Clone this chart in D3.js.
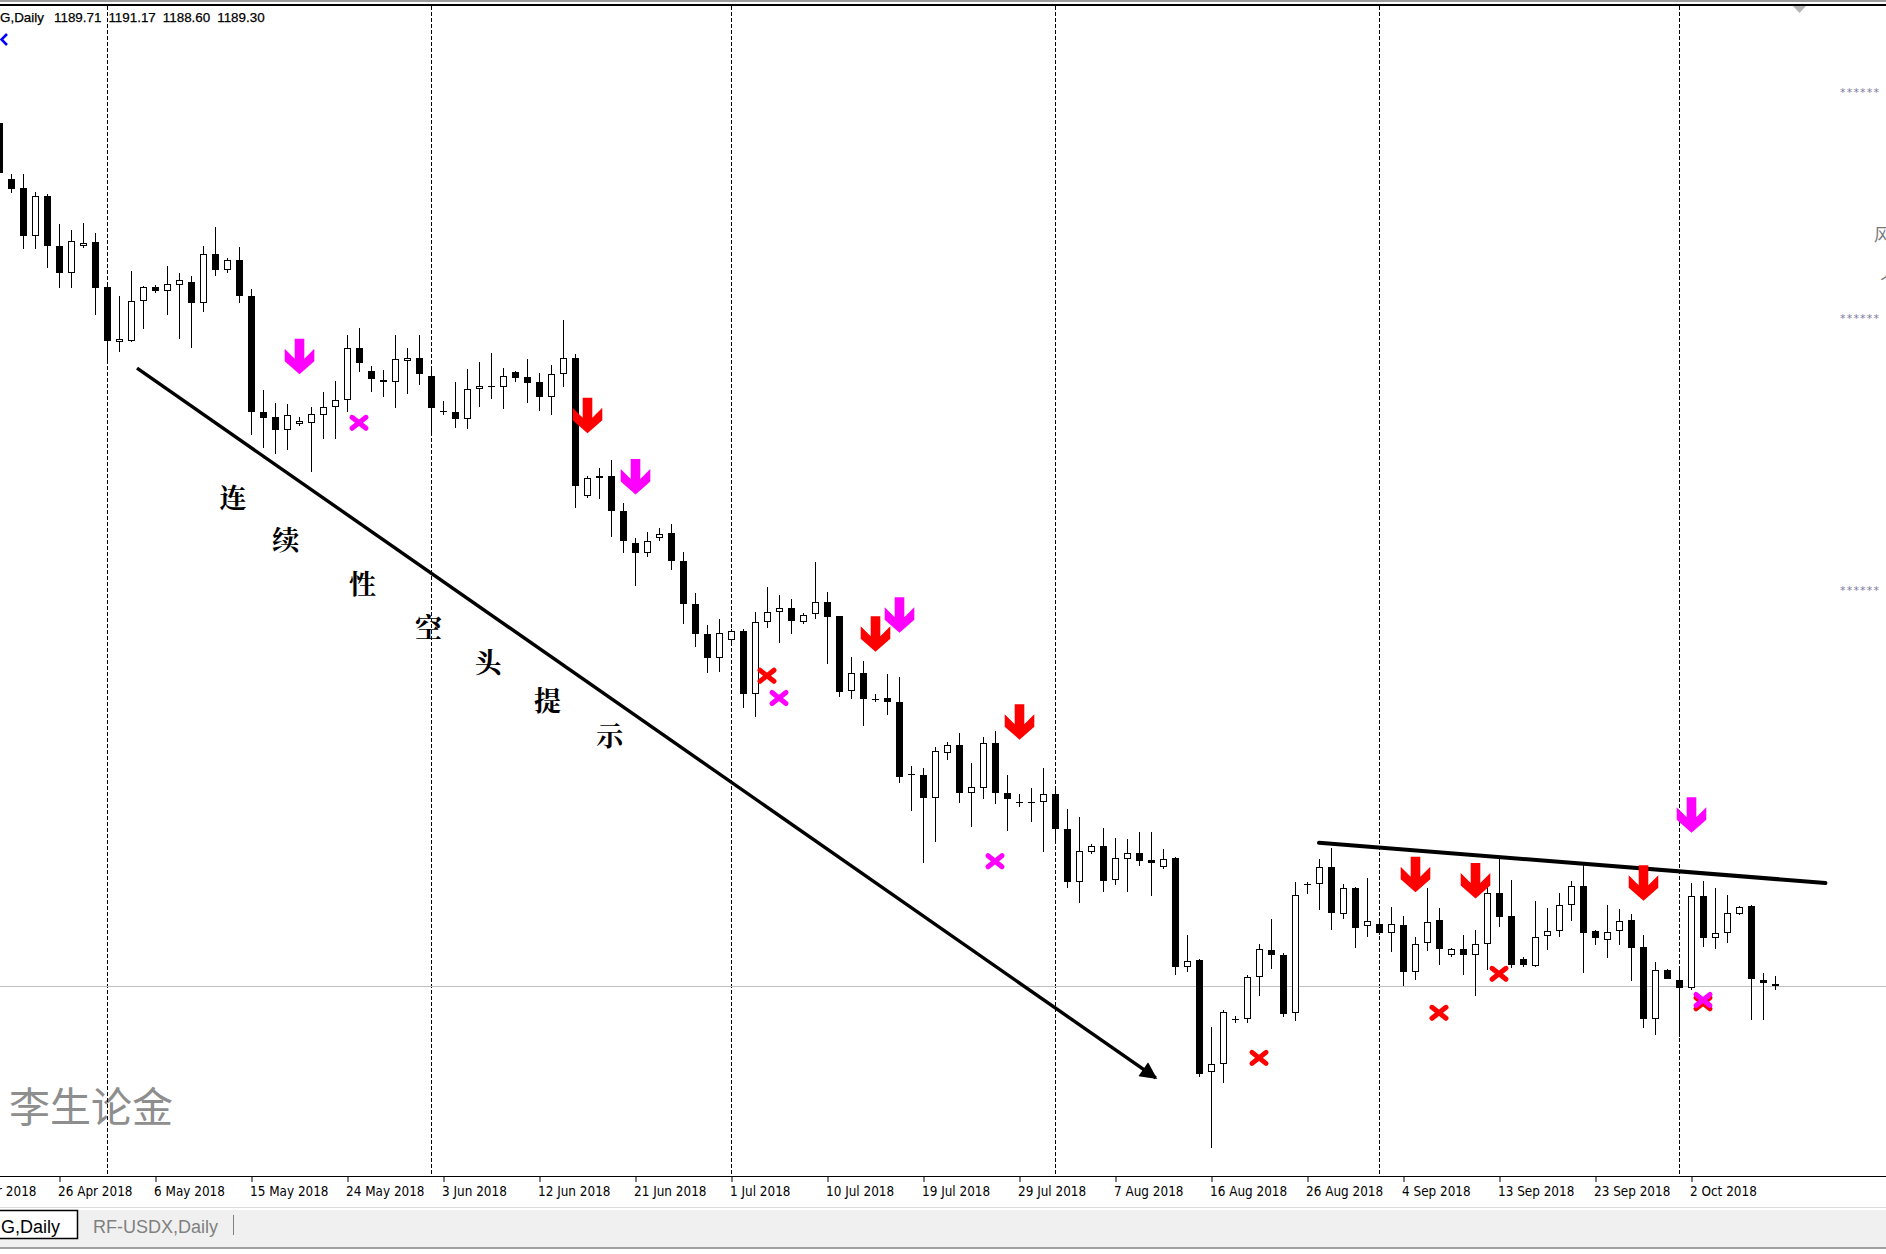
<!DOCTYPE html>
<html><head><meta charset="utf-8">
<script src="https://cdn.jsdelivr.net/npm/d3@7/dist/d3.min.js"></script>
<style>html,body{margin:0;padding:0;background:#fff;overflow:hidden}</style>
</head><body>
<svg id="c" width="1886" height="1254" xmlns="http://www.w3.org/2000/svg"></svg>
<script>
// ---------------- DATA ----------------
const firstIndex = -5; // bar index of the first bar (26 Apr 2018 = 0)
const open = [1344.2,1334.2,1332.6,1323.9,1331.1,1322.2,1317.3,1322.2,1322.9,1314.8,1304.9,1305.1,1312.3,1314.8,1314.1,1315.2,1315.7,1311.9,1320.7,1317.8,1319.6,1313.2,1292.3,1291.4,1289.1,1290.2,1290.4,1291.8,1293.2,1294.5,1303.8,1299.7,1298.1,1297.7,1301.5,1302.0,1298.8,1292.5,1292.3,1291.1,1296.5,1297.0,1296.8,1299.5,1298.6,1297.7,1295.0,1299.2,1302.0,1277.3,1280.9,1280.9,1274.6,1268.8,1267.0,1269.7,1270.6,1265.6,1257.9,1252.5,1248.2,1251.4,1253.0,1241.7,1254.7,1256.4,1257.2,1254.7,1256.1,1258.2,1255.7,1242.3,1245.5,1240.8,1241.0,1240.3,1227.4,1227.2,1223.1,1231.1,1232.6,1223.9,1224.8,1232.9,1223.9,1222.3,1222.3,1222.3,1223.8,1217.5,1208.0,1213.4,1214.4,1208.3,1212.1,1213.2,1211.9,1210.7,1212.3,1192.7,1194.0,1173.9,1175.3,1183.4,1183.4,1190.9,1195.8,1194.9,1184.5,1207.6,1207.6,1210.7,1202.2,1206.9,1200.1,1200.4,1198.8,1200.3,1191.8,1197.0,1201.1,1194.9,1195.9,1194.9,1196.8,1206.0,1201.9,1194.1,1192.9,1198.3,1199.2,1203.8,1207.3,1199.2,1197.6,1199.2,1201.1,1196.3,1183.4,1192.2,1190.4,1188.9,1205.5,1197.9,1198.8,1202.2,1203.7,1190.4,1189.71];
const high = [1345.3,1335.1,1335.1,1331.8,1331.4,1326.1,1325.0,1326.3,1324.5,1315.0,1313.2,1317.7,1315.0,1315.2,1318.6,1317.3,1316.8,1322.2,1325.6,1320.0,1322.0,1314.4,1296.3,1294.0,1293.8,1291.5,1293.2,1295.9,1297.9,1306.2,1307.4,1300.6,1299.9,1306.2,1303.8,1306.2,1300.6,1294.3,1297.7,1300.1,1301.3,1302.9,1300.2,1299.7,1301.9,1299.4,1300.8,1308.9,1302.8,1280.9,1282.3,1283.7,1276.0,1269.7,1270.8,1271.5,1272.2,1267.2,1259.9,1254.1,1255.2,1253.4,1253.4,1256.4,1260.9,1259.5,1258.8,1256.3,1265.4,1260.0,1255.8,1248.4,1247.6,1241.7,1245.3,1244.8,1228.8,1228.4,1232.2,1233.1,1234.7,1229.3,1234.0,1235.1,1227.2,1223.8,1224.8,1228.4,1224.8,1221.1,1219.6,1214.8,1217.7,1215.9,1215.7,1216.9,1216.9,1213.9,1212.5,1198.5,1194.1,1181.9,1185.0,1183.9,1191.3,1196.8,1201.3,1195.2,1208.0,1208.0,1212.1,1214.1,1207.6,1207.1,1208.7,1200.8,1203.5,1201.9,1198.1,1206.9,1203.3,1196.1,1198.5,1199.4,1207.1,1212.1,1208.3,1194.5,1204.6,1203.3,1206.0,1208.2,1211.4,1199.3,1203.8,1203.1,1202.2,1198.5,1193.6,1192.3,1192.5,1207.8,1208.2,1206.9,1205.6,1203.7,1203.8,1191.6,1191.17];
const low = [1334.7,1331.7,1321.6,1321.6,1318.2,1314.6,1314.6,1321.8,1309.8,1301.3,1303.1,1304.9,1307.2,1313.7,1309.8,1305.5,1303.8,1310.3,1316.8,1317.3,1311.9,1288.2,1285.9,1284.8,1285.5,1289.8,1281.6,1287.5,1287.5,1292.3,1299.5,1295.9,1295.0,1293.1,1295.6,1297.2,1288.8,1291.8,1289.5,1289.3,1293.2,1294.7,1292.9,1297.7,1294.0,1292.5,1291.8,1296.8,1275.1,1276.9,1276.7,1269.9,1267.0,1261.1,1266.3,1269.2,1264.0,1254.3,1250.2,1245.5,1245.7,1251.1,1239.2,1237.6,1253.6,1250.9,1252.5,1254.3,1255.2,1247.1,1241.2,1240.8,1236.0,1240.3,1238.0,1225.7,1220.7,1211.4,1215.2,1229.9,1222.2,1217.8,1222.9,1222.0,1217.1,1221.4,1218.7,1213.4,1215.5,1206.9,1204.2,1213.0,1206.2,1207.4,1206.2,1210.8,1205.5,1210.3,1191.3,1191.8,1173.0,1160.2,1171.9,1182.7,1182.7,1187.5,1192.4,1183.7,1183.0,1205.8,1202.9,1199.4,1201.3,1196.1,1198.1,1198.5,1195.4,1189.3,1190.4,1195.6,1193.1,1194.5,1191.3,1187.5,1192.2,1199.9,1192.5,1192.7,1192.7,1195.8,1198.1,1201.0,1191.6,1196.7,1194.3,1196.7,1190.2,1181.8,1180.5,1190.5,1180.1,1188.6,1196.3,1195.9,1197.0,1202.0,1183.2,1183.2,1188.60];
const close = [1335.3,1332.4,1323.9,1331.1,1322.2,1317.3,1323.0,1322.7,1314.6,1305.1,1305.5,1312.3,1314.8,1314.1,1315.3,1316.0,1311.9,1320.7,1317.8,1319.6,1313.2,1292.3,1291.3,1289.1,1291.8,1290.7,1292.0,1293.2,1294.5,1303.8,1301.1,1298.3,1297.7,1301.9,1302.0,1299.2,1293.1,1292.3,1291.1,1296.5,1297.0,1296.9,1298.8,1298.5,1297.6,1295.0,1299.2,1302.0,1279.1,1280.5,1280.5,1274.6,1269.2,1267.0,1269.2,1270.4,1265.6,1257.9,1252.5,1248.2,1252.7,1253.0,1241.7,1254.7,1256.4,1257.2,1254.8,1255.9,1258.2,1255.5,1242.1,1245.5,1240.8,1240.7,1240.3,1226.8,1227.3,1223.1,1231.5,1232.6,1223.9,1225.0,1232.9,1223.9,1222.9,1222.2,1222.2,1223.8,1217.5,1208.0,1213.5,1214.4,1208.2,1212.3,1213.2,1211.7,1211.4,1212.1,1192.7,1193.8,1173.5,1175.3,1184.6,1183.3,1190.9,1195.9,1194.9,1184.3,1205.6,1207.7,1210.7,1202.4,1206.9,1199.7,1201.0,1198.8,1200.4,1191.8,1196.8,1200.8,1195.9,1195.9,1194.9,1196.8,1206.0,1201.7,1193.1,1193.1,1198.1,1199.2,1203.8,1207.3,1198.8,1197.9,1199.0,1201.0,1196.1,1183.4,1192.2,1190.6,1188.9,1205.5,1197.9,1198.8,1202.4,1203.5,1190.6,1189.8,1189.30];

const tickIndex  = [-8,0,8,16,24,32,40,48,56,64,72,80,88,96,104,112,120,128,136];
const tickLabels = ["17 Apr 2018","26 Apr 2018","6 May 2018","15 May 2018","24 May 2018","3 Jun 2018","12 Jun 2018","21 Jun 2018","1 Jul 2018","10 Jul 2018","19 Jul 2018","29 Jul 2018","7 Aug 2018","16 Aug 2018","26 Aug 2018","4 Sep 2018","13 Sep 2018","23 Sep 2018","2 Oct 2018"];
const monthStartIndex = [4,31,56,83,110,135];

// signal arrows (bar index, price at arrow top, colour)
const arrowIndex = [20,44,48,68,70,80,113,118,132,136];
const arrowPrice = [1305.5,1294.9,1283.9,1255.7,1259.1,1239.9,1212.5,1211.4,1211.0,1223.2];
const arrowColor = ["#ff00ff","#ff0000","#ff00ff","#ff0000","#ff00ff","#ff0000","#ff0000","#ff0000","#ff0000","#ff00ff"];
// cross markers (bar index, price at centre, colour)
const crossIndex = [25,59,60,78,100,115,120,137,137];
const crossPrice = [1290.4,1245.0,1241.0,1211.7,1176.4,1184.5,1191.5,1186.2,1186.8];
const crossColor = ["#ff00ff","#ff0000","#ff00ff","#ff00ff","#ff0000","#ff0000","#ff0000","#ff0000","#ff00ff"];

// trend lines [index, price]
const downTrend = [[6.5,1300.2],[91.4,1172.8]];
const resistance = [[105,1215.0],[147.2,1207.8]];

// diagonal caption
const captionChars = ["连","续","性","空","头","提","示"];
const captionIndex = [14.5,18.9,25.3,30.8,35.75,40.7,45.9];
const captionPrice = [1277.1,1269.7,1261.8,1253.8,1247.5,1240.8,1234.5];

const symbolLabel = "G,Daily";
const tabLabels = ["G,Daily","RF-USDX,Daily"];
const watermark = "李生论金";

// ---------------- CHART ----------------
const W = 1886, H = 1254;
const svg = d3.select("#c");
const x = d3.scaleLinear().domain([0,136]).range([59,1691]);
const y = d3.scaleLinear().domain([1155.2,1365.4]).range([1176,5]);

svg.append("rect").attr("width",W).attr("height",H).attr("fill","#fff");

const defs = svg.append("defs");
defs.append("clipPath").attr("id","clip").append("rect").attr("x",0).attr("y",6).attr("width",W).attr("height",1170);
defs.append("marker").attr("id","ah").attr("viewBox","0 0 10 10").attr("refX",9).attr("refY",5)
  .attr("markerWidth",6).attr("markerHeight",5).attr("markerUnits","strokeWidth").attr("orient","auto")
  .append("path").attr("d","M0,0 L10,5 L0,10 Z").attr("fill","#000");

// top frame
svg.append("rect").attr("x",0).attr("y",0).attr("width",W).attr("height",2).attr("fill","#9b9b9b");
svg.append("rect").attr("x",0).attr("y",4).attr("width",W).attr("height",2).attr("fill","#000");
svg.append("path").attr("d","M1793,6 L1806,6 L1799.5,13 Z").attr("fill","#b4b4b4");

const plot = svg.append("g").attr("clip-path","url(#clip)");

// watermark
plot.append("text").attr("x",9).attr("y",1122).text(watermark)
  .attr("font-family","'Noto Sans CJK SC'").attr("font-size",41).attr("fill","#8e8e8e");

// month separators
plot.selectAll("line.sep").data(monthStartIndex).enter().append("line")
  .attr("x1",d=>Math.round(x(d))+0.5).attr("x2",d=>Math.round(x(d))+0.5)
  .attr("y1",6).attr("y2",1176).attr("stroke","#000").attr("stroke-width",1).attr("stroke-dasharray","4,2");

// bid line
plot.append("line").attr("x1",0).attr("x2",W).attr("y1",Math.round(y(close[close.length-1]))+0.5)
  .attr("y2",Math.round(y(close[close.length-1]))+0.5).attr("stroke","#c0c0c0").attr("stroke-width",1);

// candles
const bars = open.map((o,k)=>({i:firstIndex+k,o:o,h:high[k],l:low[k],c:close[k]}));
const cg = plot.append("g").attr("shape-rendering","crispEdges");
bars.forEach(b=>{
  const cx = Math.round(x(b.i));
  const yh = Math.round(y(b.h)), yl = Math.round(y(b.l));
  const yo = Math.round(y(b.o)), yc = Math.round(y(b.c));
  cg.append("rect").attr("x",cx).attr("y",yh).attr("width",1).attr("height",Math.max(1,yl-yh)).attr("fill","#000");
  let top = Math.min(yo,yc), bot = Math.max(yo,yc);
  if (b.c > b.o && bot-top >= 3) {
    cg.append("rect").attr("x",cx-3).attr("y",top).attr("width",7).attr("height",bot-top).attr("fill","#000");
    cg.append("rect").attr("x",cx-2).attr("y",top+1).attr("width",5).attr("height",bot-top-2).attr("fill","#fff");
  } else {
    if (bot-top < 1) bot = top+1;
    cg.append("rect").attr("x",cx-3).attr("y",top).attr("width",7).attr("height",bot-top).attr("fill","#000");
  }
});

// trend lines
const lp = d=>[x(d[0]),y(d[1])];
plot.append("line").attr("x1",lp(downTrend[0])[0]).attr("y1",lp(downTrend[0])[1])
  .attr("x2",lp(downTrend[1])[0]).attr("y2",lp(downTrend[1])[1])
  .attr("stroke","#000").attr("stroke-width",3.4).attr("marker-end","url(#ah)");
plot.append("line").attr("x1",lp(resistance[0])[0]).attr("y1",lp(resistance[0])[1])
  .attr("x2",lp(resistance[1])[0]).attr("y2",lp(resistance[1])[1])
  .attr("stroke","#000").attr("stroke-width",4).attr("stroke-linecap","round");

// arrows
const arrowPath = "M-4.8,0 H4.8 V20 L14.8,10 V22.5 L0,35.5 L-14.8,22.5 V10 L-4.8,20 Z";
arrowIndex.forEach((ix,k)=>{
  plot.append("path").attr("d",arrowPath)
    .attr("transform",`translate(${Math.round(x(ix))+0.5},${y(arrowPrice[k])})`)
    .attr("fill",arrowColor[k]);
});
// crosses
crossIndex.forEach((ix,k)=>{
  const g = plot.append("g").attr("transform",`translate(${x(ix)},${y(crossPrice[k])})`)
    .attr("stroke",crossColor[k]).attr("stroke-width",5).attr("stroke-linecap","round");
  g.append("line").attr("x1",-7).attr("y1",-5.5).attr("x2",7).attr("y2",5.5);
  g.append("line").attr("x1",-7).attr("y1",5.5).attr("x2",7).attr("y2",-5.5);
});

// caption
captionChars.forEach((ch,k)=>{
  plot.append("text").attr("x",x(captionIndex[k])).attr("y",y(captionPrice[k]))
    .attr("text-anchor","middle").attr("dominant-baseline","central")
    .attr("font-family","'Noto Serif CJK SC','Noto Sans CJK SC'").attr("font-weight",700).attr("font-size",27)
    .attr("fill","#000").text(ch);
});

// blue chevron (top left)
svg.append("path").attr("d","M7,34 L1.5,39.5 L7,45").attr("fill","none").attr("stroke","#0000ff").attr("stroke-width",2.6);

// header text
const hdr = svg.append("g").attr("font-family","'Liberation Sans'").attr("font-size",13.4).attr("fill","#000")
  .attr("stroke","#000").attr("stroke-width",0.25);
hdr.append("text").attr("x",0).attr("y",22).text(symbolLabel);
const last = open.length-1;
[open[last],high[last],low[last],close[last]].forEach((v,k)=>{
  hdr.append("text").attr("x",54+k*54.4).attr("y",22).text(v.toFixed(2));
});

// right-side masked price labels
const rs = svg.append("g").attr("font-family","'DejaVu Sans'").attr("font-size",11).attr("letter-spacing",1.2).attr("fill","#7c7c9c");
[96,322,594].forEach(v=>rs.append("text").attr("x",1840).attr("y",v).text("******"));
svg.append("text").attr("x",1874).attr("y",241).text("风").attr("font-family","'Noto Sans CJK SC'").attr("font-size",17).attr("fill","#777");
svg.append("text").attr("x",1880).attr("y",287).text("个").attr("font-family","'Noto Sans CJK SC'").attr("font-size",17).attr("fill","#777");

// x axis
svg.append("rect").attr("x",0).attr("y",1176).attr("width",W).attr("height",1).attr("fill","#000");
const xAxis = d3.axisBottom(x).tickValues(tickIndex).tickFormat((d,k)=>tickLabels[k]).tickSize(5).tickPadding(4);
const ax = svg.append("g").attr("transform","translate(0.5,1177)").call(xAxis);
ax.select(".domain").remove();
ax.selectAll("text").attr("text-anchor","start").attr("dx",-2).attr("font-family","'DejaVu Sans Condensed','DejaVu Sans'").attr("font-size",13.4).attr("fill","#000");
ax.selectAll("line").attr("stroke","#000");

// tab bar
svg.append("rect").attr("x",0).attr("y",1207).attr("width",W).attr("height",1).attr("fill","#dcdcdc");
svg.append("rect").attr("x",0).attr("y",1210).attr("width",W).attr("height",37).attr("fill","#f0f0f0");
svg.append("rect").attr("x",0).attr("y",1247).attr("width",W).attr("height",2).attr("fill","#a0a0a0");
svg.append("rect").attr("x",0).attr("y",1210).attr("width",78).attr("height",28).attr("fill","#fff");
svg.append("path").attr("d","M0,1210.5 H77.5 V1238.5 H0").attr("fill","none").attr("stroke","#000").attr("stroke-width",1.5);
svg.append("text").attr("x",1).attr("y",1233).text(tabLabels[0]).attr("font-family","'Liberation Sans'").attr("font-size",18).attr("fill","#000");
svg.append("text").attr("x",93).attr("y",1233).text(tabLabels[1]).attr("font-family","'Liberation Sans'").attr("font-size",18).attr("fill","#808080");
svg.append("rect").attr("x",233).attr("y",1215).attr("width",1).attr("height",20).attr("fill","#808080");
</script>
</body></html>
